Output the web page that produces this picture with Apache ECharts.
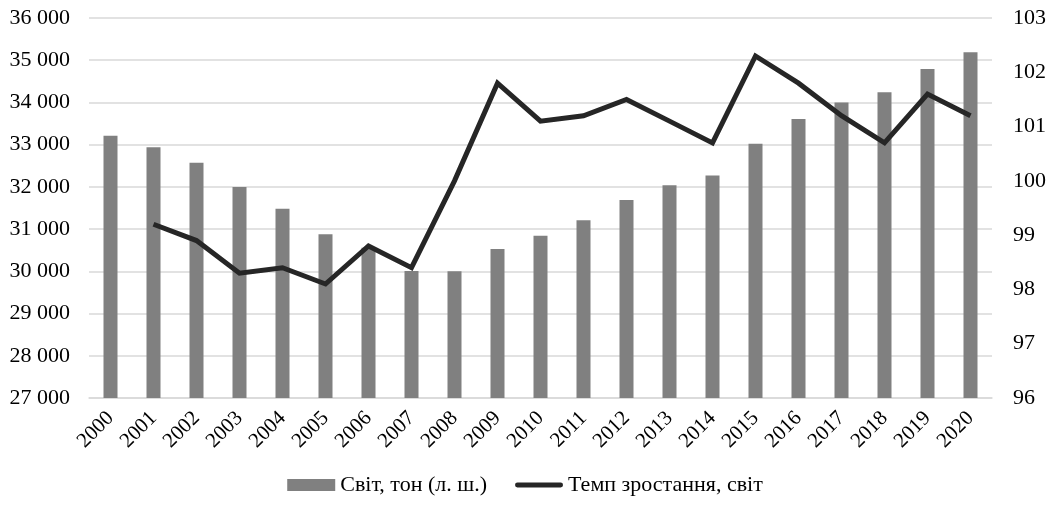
<!DOCTYPE html>
<html>
<head>
<meta charset="utf-8">
<script src="https://cdn.jsdelivr.net/npm/echarts@6/dist/echarts.min.js"></script>
<style>
  html, body { margin: 0; padding: 0; background: #fff; }
  #chart { width: 1050px; height: 512px; }
</style>
</head>
<body>
<div id="chart"></div>
<script>
// Years on the category axis
const years = ['2000','2001','2002','2003','2004','2005','2006','2007','2008','2009','2010',
               '2011','2012','2013','2014','2015','2016','2017','2018','2019','2020'];

// World volume, tonnes (left axis)
const worldTonnes = [33210, 32940, 32570, 32000, 31480, 30880, 30560, 30010, 30000, 30530, 30840,
                     31210, 31690, 32040, 32270, 33020, 33610, 34000, 34240, 34790, 35190];

// Growth rate, % (right axis); no value for the first year
const growthRate = [null, 99.2, 98.9, 98.3, 98.4, 98.1, 98.8, 98.4, 100.0, 101.8, 101.1,
                    101.2, 101.5, 101.1, 100.7, 102.3, 101.8, 101.2, 100.7, 101.6, 101.2];

const barName = 'Світ, тон (л. ш.)';
const lineName = 'Темп зростання, світ';

const font = 'Liberation Serif, Times New Roman, serif';
const chart = echarts.init(document.getElementById('chart'), null, { renderer: 'canvas' });

const fmtThousands = v => String(v).replace(/\B(?=(\d{3})+(?!\d))/g, ' ');

chart.setOption({
  animation: false,
  textStyle: { fontFamily: font, color: '#000' },
  grid: { left: 89, right: 58, top: 18, bottom: 114, containLabel: false },
  legend: {
    top: 469,
    left: 'center',
    itemGap: 28,
    itemWidth: 48,
    itemHeight: 12,
    textStyle: { fontFamily: font, fontSize: 22, color: '#000' },
    data: [
      { name: barName, icon: 'rect' },
      { name: lineName, icon: 'path://M2.5,0 L47.5,0 A2.5,2.5 0 0 1 47.5,5 L2.5,5 A2.5,2.5 0 0 1 2.5,0 Z' }
    ]
  },
  xAxis: {
    type: 'category',
    data: years,
    axisLine: { show: true, lineStyle: { color: '#d9d9d9', width: 1.5 } },
    axisTick: { show: false },
    axisLabel: { rotate: 45, fontSize: 21, fontFamily: font, color: '#000', margin: 17, interval: 0 }
  },
  yAxis: [
    {
      type: 'value',
      min: 27000, max: 36000, interval: 1000,
      axisLine: { show: false },
      axisTick: { show: false },
      splitLine: { lineStyle: { color: '#d9d9d9', width: 1.5 } },
      axisLabel: { fontSize: 22, fontFamily: font, color: '#000', margin: 19, formatter: fmtThousands }
    },
    {
      type: 'value',
      min: 96, max: 103, interval: 1,
      position: 'right',
      axisLine: { show: false },
      axisTick: { show: false },
      splitLine: { show: false },
      axisLabel: { fontSize: 22, fontFamily: font, color: '#000', margin: 21 }
    }
  ],
  series: [
    {
      name: barName,
      type: 'bar',
      yAxisIndex: 0,
      data: worldTonnes,
      barWidth: 14,
      itemStyle: { color: '#808080' }
    },
    {
      name: lineName,
      type: 'line',
      yAxisIndex: 1,
      data: growthRate,
      symbol: 'none',
      lineStyle: { color: '#262626', width: 5, join: 'miter' },
      itemStyle: { color: '#262626' }
    }
  ]
});
</script>
</body>
</html>
